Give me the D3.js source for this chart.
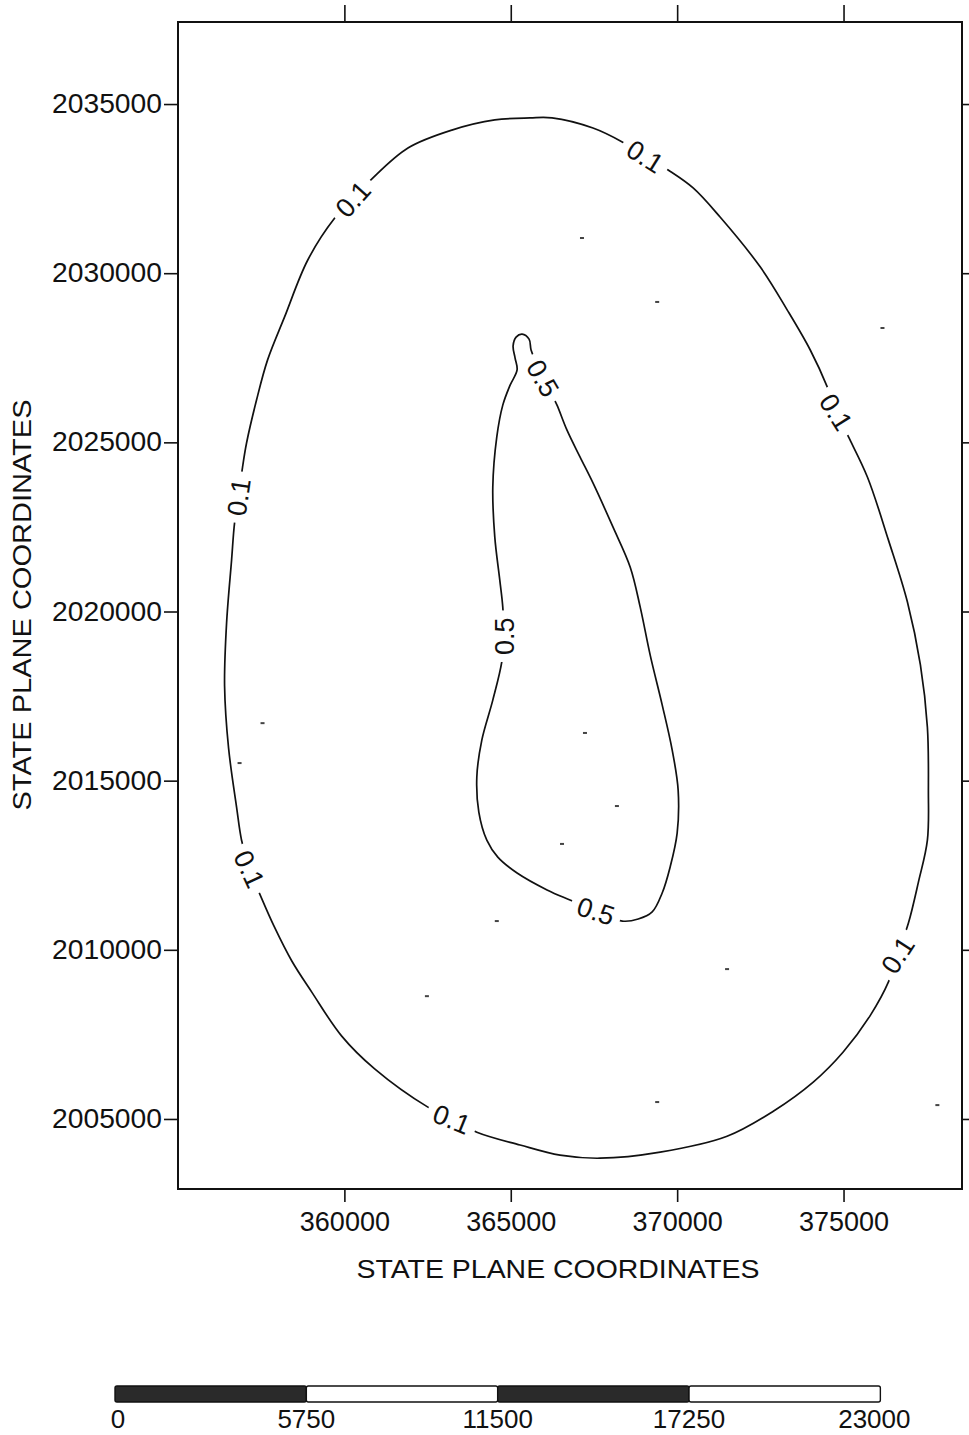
<!DOCTYPE html>
<html>
<head>
<meta charset="utf-8">
<script src="https://cdn.jsdelivr.net/npm/d3@7"></script>
<style>
  html, body { margin: 0; padding: 0; background: #fff; }
  svg { display: block; font-family: "Liberation Sans", Arial, Helvetica, sans-serif; }
</style>
</head>
<body>
<svg id="chart" width="969" height="1435"></svg>
<script>
// ---- data (state plane coordinates, feet) ----
const xTicks = [360000, 365000, 370000, 375000];
const yTicks = [2005000, 2010000, 2015000, 2020000, 2025000, 2030000, 2035000];

// 0.1 isopleth, traced clockwise from the northern crest
const contour01 = [
  [365580,2034590],[366240,2034590],[367470,2034290],[368350,2033880],[369040,2033460],
  [369730,2033050],[370480,2032520],[371290,2031660],[372500,2030180],[373310,2028910],
  [374000,2027730],[374510,2026640],[374780,2025900],[375150,2025160],[375720,2023970],
  [376350,2022110],[376920,2020280],[377310,2018420],[377520,2016580],[377550,2014720],
  [377520,2013240],[377250,2012000],[376950,2010790],[376620,2009850],[376350,2009050],
  [375810,2008070],[374990,2006980],[374090,2006090],[372890,2005230],[371500,2004490],
  [369490,2004020],[367680,2003840],[366480,2003930],[365280,2004230],[363980,2004610],
  [363230,2005000],[362510,2005350],[360910,2006480],[359920,2007450],[359020,2008750],
  [358420,2009670],[357900,2010670],[357510,2011530],[357150,2012390],[356910,2013240],
  [356760,2014220],[356520,2015960],[356400,2017800],[356460,2019660],[356610,2021520],
  [356700,2022620],[356820,2023380],[356940,2024270],[357060,2024980],[357360,2026250],
  [357690,2027430],[358200,2028700],[358900,2030390],[359710,2031630],[360250,2032190],
  [360820,2032780],[361910,2033700],[363230,2034230],[364520,2034530]
];

// 0.5 isopleth, traced clockwise from the small northern lobe
const contour05 = [
  [365340,2028200],[365550,2028050],[365610,2027730],[365760,2027370],[365970,2026900],
  [366240,2026400],[366390,2026100],[366690,2025360],[367080,2024570],[367470,2023800],
  [368070,2022500],[368590,2021310],[368890,2020130],[369190,2018710],[369550,2017240],
  [369850,2015910],[370030,2014720],[370000,2013450],[369790,2012450],[369550,2011680],
  [369250,2011120],[368830,2010910],[368350,2010850],[367560,2011150],[366780,2011470],
  [366090,2011770],[365190,2012270],[364610,2012740],[364280,2013240],[364040,2014070],
  [363980,2015110],[364130,2016200],[364460,2017380],[364730,2018510],[364790,2019270],
  [364760,2020130],[364670,2020930],[364520,2022200],[364460,2023680],[364580,2025160],
  [364760,2026100],[364980,2026690],[365190,2027140],[365130,2027490],[365070,2027850],
  [365160,2028110]
];

// contour label anchors: level text, position on the line, reading angle (deg)
const labelLevels = ["0.1","0.1","0.1","0.1","0.1","0.1","0.1","0.5","0.5","0.5"];
const labelX      = [369040,374780,376620,363230,357150,356820,360250,365970,367560,364790];
const labelY      = [2033460,2025900,2009850,2005000,2012390,2023380,2032190,2026900,2011150,2019270];
const labelAngle  = [32,58,-57,22,65,-82,-48,60,18,-90];

// sampling locations marked inside the map area
const sampleX = [367230,368190,371500,369400,366540,364580,357540,367140,369400,376170,377820,362480,356850];
const sampleY = [2016410,2014250,2009430,2005500,2013130,2010850,2016700,2031040,2029150,2028380,2005410,2008630,2015520];

// graphic scale bar, feet
const scaleStops = [0, 5750, 11500, 17250, 23000];

const xTitle = "STATE PLANE COORDINATES";
const yTitle = "STATE PLANE COORDINATES";

// ---- layout ----
const svg = d3.select("#chart");
const frame = { left: 178, right: 962, top: 22, bottom: 1189 };

const x = d3.scaleLinear().domain([355000, 378560]).range([frame.left, frame.right]);
const y = d3.scaleLinear().domain([2002930, 2037425]).range([frame.bottom, frame.top]);

const ink = "#111";

// axes (ticks only; the frame is drawn as one rectangle)
function styleAxis(g) {
  g.select(".domain").remove();
  g.selectAll(".tick line").attr("stroke", ink).attr("stroke-width", 1.6);
  g.selectAll(".tick text").attr("fill", ink).attr("font-size", 27)
    .attr("font-family", "\"Liberation Sans\", Arial, Helvetica, sans-serif");
}

svg.append("g")
  .attr("transform", `translate(${frame.left},0)`)
  .call(d3.axisLeft(y).tickValues(yTicks).tickSize(14).tickPadding(2).tickFormat(d3.format("d")))
  .call(styleAxis)
  .call(g => g.selectAll(".tick text").attr("textLength", 110).attr("lengthAdjust", "spacingAndGlyphs"));

svg.append("g")
  .attr("transform", `translate(${frame.right},0)`)
  .call(d3.axisRight(y).tickValues(yTicks).tickSize(9).tickFormat(""))
  .call(styleAxis);

svg.append("g")
  .attr("transform", `translate(0,${frame.top})`)
  .call(d3.axisTop(x).tickValues(xTicks).tickSize(17).tickFormat(""))
  .call(styleAxis);

svg.append("g")
  .attr("transform", `translate(0,${frame.bottom})`)
  .call(d3.axisBottom(x).tickValues(xTicks).tickSize(13).tickPadding(10).tickFormat(d3.format("d")))
  .call(styleAxis);

// map frame
svg.append("rect")
  .attr("x", frame.left).attr("y", frame.top)
  .attr("width", frame.right - frame.left).attr("height", frame.bottom - frame.top)
  .attr("fill", "none").attr("stroke", ink).attr("stroke-width", 2);

// axis titles
svg.append("text")
  .attr("x", (frame.left + frame.right) / 2 - 12).attr("y", 1278)
  .attr("text-anchor", "middle").attr("font-size", 26).attr("fill", ink)
  .attr("textLength", 403).attr("lengthAdjust", "spacingAndGlyphs")
  .text(xTitle);

svg.append("text")
  .attr("transform", `translate(31,${605}) rotate(-90)`)
  .attr("text-anchor", "middle").attr("font-size", 26).attr("fill", ink)
  .attr("textLength", 411).attr("lengthAdjust", "spacingAndGlyphs")
  .text(yTitle);

// contour lines
const line = d3.line()
  .x(d => x(d[0])).y(d => y(d[1]))
  .curve(d3.curveCatmullRomClosed.alpha(0.5));

const plot = svg.append("g");
[contour01, contour05].forEach(c => {
  plot.append("path")
    .attr("d", line(c))
    .attr("fill", "none").attr("stroke", ink).attr("stroke-width", 1.7)
    .attr("stroke-linejoin", "round");
});

// sampling marks
plot.selectAll("rect.sample")
  .data(d3.range(sampleX.length))
  .join("rect").attr("class", "sample")
  .attr("x", i => x(sampleX[i]) - 2).attr("y", i => y(sampleY[i]) - 1)
  .attr("width", 4).attr("height", 2).attr("fill", "#444");

// contour labels with a knock-out gap in the line
const lab = plot.selectAll("g.clabel")
  .data(d3.range(labelLevels.length))
  .join("g").attr("class", "clabel")
  .attr("transform", i => `translate(${x(labelX[i])},${y(labelY[i])}) rotate(${labelAngle[i]})`);

lab.append("rect").attr("fill", "#fff");
lab.append("text")
  .attr("text-anchor", "middle").attr("dy", "0.36em")
  .attr("font-size", 27).attr("fill", ink)
  .text(i => labelLevels[i]);

lab.each(function () {
  const g = d3.select(this);
  const w = g.select("text").node().getComputedTextLength();
  g.select("rect")
    .attr("x", -w / 2 - 7).attr("y", -12)
    .attr("width", w + 14).attr("height", 24);
});

// graphic scale bar in map units
const barLeft = 115;
const barScale = d3.scaleLinear()
  .domain([0, 23000])
  .range([barLeft, barLeft + (x(355000 + 23000) - x(355000))]);
const barTop = 1386, barH = 16;

const bar = svg.append("g");
bar.selectAll("rect")
  .data(d3.pairs(scaleStops))
  .join("rect")
  .attr("x", d => barScale(d[0])).attr("y", barTop)
  .attr("width", d => barScale(d[1]) - barScale(d[0])).attr("height", barH)
  .attr("rx", 2)
  .attr("fill", (d, i) => i % 2 === 0 ? "#2a2a2a" : "#fff")
  .attr("stroke", ink).attr("stroke-width", 1.4);

bar.selectAll("text")
  .data(scaleStops)
  .join("text")
  .attr("x", (d, i) => barScale(d) + (i === 0 ? 3 : i === scaleStops.length - 1 ? -6 : 0))
  .attr("y", 1428)
  .attr("text-anchor", "middle").attr("font-size", 26).attr("fill", ink)
  .text(d => d);
</script>
</body>
</html>
